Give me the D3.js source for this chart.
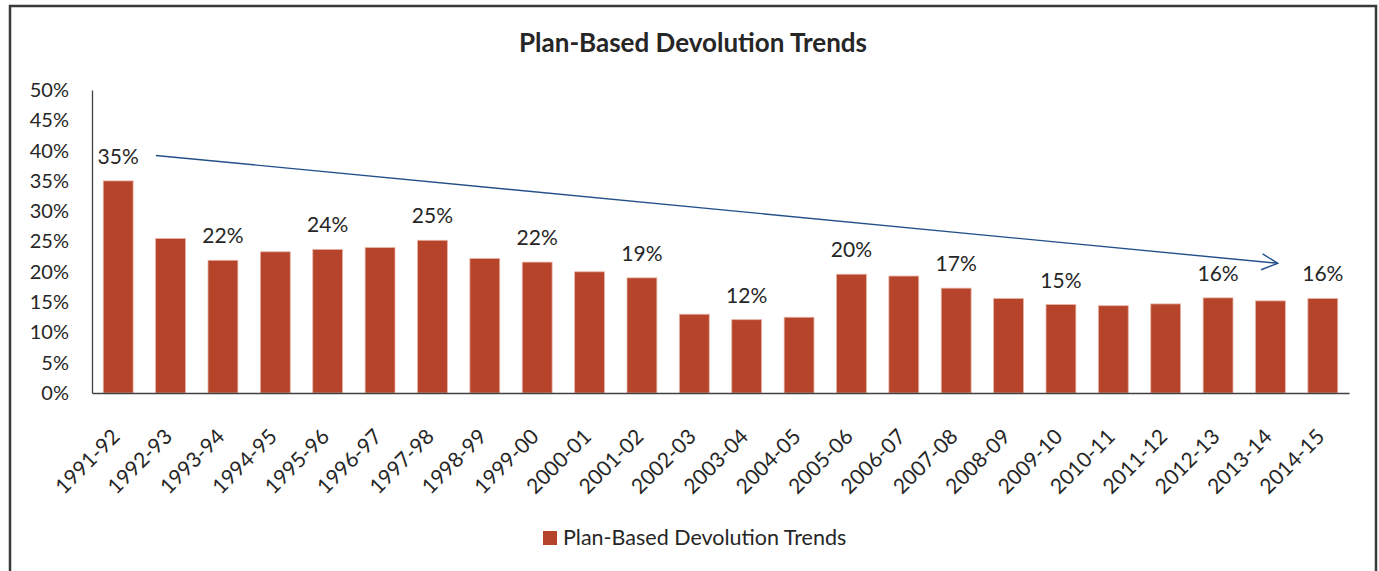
<!DOCTYPE html>
<html>
<head>
<meta charset="utf-8">
<script src="https://cdn.jsdelivr.net/npm/d3@7"></script>
<style>
  body { margin: 0; background: #fff; }
  svg { display: block; font-family: Lato, "Open Sans", sans-serif; }
</style>
</head>
<body>
<div id="chart"></div>
<script>
// values (share of plan-based devolution, %)
var years = ["1991-92", "1992-93", "1993-94", "1994-95", "1995-96", "1996-97", "1997-98", "1998-99",
  "1999-00", "2000-01", "2001-02", "2002-03", "2003-04", "2004-05", "2005-06", "2006-07",
  "2007-08", "2008-09", "2009-10", "2010-11", "2011-12", "2012-13", "2013-14", "2014-15"];
var shares = [35.0, 25.5, 21.9, 23.3, 23.7, 24.0, 25.2, 22.2,
  21.6, 20.0, 19.0, 13.0, 12.1, 12.5, 19.6, 19.3,
  17.3, 15.6, 14.6, 14.4, 14.7, 15.7, 15.2, 15.6];
// which bars carry a value label
var labelled = ["1991-92", "1993-94", "1995-96", "1997-98", "1999-00", "2001-02", "2003-04",
  "2005-06", "2007-08", "2009-10", "2012-13", "2014-15"];
var yTicks = [0, 5, 10, 15, 20, 25, 30, 35, 40, 45, 50];
// trend arrow, in (bar index, %) units
var arrowFrom = [1.22, 39.2];
var arrowTo = [22.64, 21.4];
var seriesName = "Plan-Based Devolution Trends";

var width = 1379, height = 571;
var plotLeft = 92, plotRight = 1349, plotTop = 90, plotBottom = 393;
var barColor = "#b5442a";

var svg = d3.select("#chart").append("svg")
  .attr("width", width)
  .attr("height", height);

// outer frame
svg.append("rect")
  .attr("x", 10).attr("y", 6)
  .attr("width", 1366).attr("height", 620)
  .attr("fill", "none")
  .attr("stroke", "#3a3a3a")
  .attr("stroke-width", 2.5);

svg.append("text")
  .attr("x", 693).attr("y", 52)
  .attr("text-anchor", "middle")
  .style("font-size", "26px")
  .style("font-weight", "bold")
  .style("fill", "#262626")
  .text(seriesName);

var x = d3.scaleBand()
  .domain(years)
  .range([plotLeft, plotRight])
  .paddingInner(0.43)
  .paddingOuter(0.215);

var idx = d3.scaleLinear().domain([0, years.length]).range([plotLeft, plotRight]);

var y = d3.scaleLinear()
  .domain([0, 50])
  .range([plotBottom, plotTop]);

// y axis
var yAxis = svg.append("g")
  .attr("transform", "translate(" + plotLeft + ",0)")
  .call(d3.axisLeft(y).tickValues(yTicks).tickSize(0).tickPadding(23)
    .tickFormat(function(d) { return d + "%"; }));
yAxis.select(".domain").attr("stroke", "#404040").attr("stroke-width", 1.3);
yAxis.selectAll("text")
  .style("font-size", "20px")
  .style("font-family", "Lato, sans-serif")
  .style("fill", "#262626");

// bars
svg.selectAll("rect.bar")
  .data(years)
  .enter().append("rect")
  .attr("class", "bar")
  .attr("x", function(d) { return x(d); })
  .attr("width", x.bandwidth())
  .attr("y", function(d, i) { return y(shares[i]); })
  .attr("height", function(d, i) { return plotBottom - y(shares[i]); })
  .attr("fill", barColor)
  .attr("stroke", "#e9b3a5")
  .attr("stroke-width", 0.8);

// x axis
var xAxis = svg.append("g")
  .attr("transform", "translate(0," + plotBottom + ")")
  .call(d3.axisBottom(x).tickSize(0).tickSizeOuter(0).tickPadding(0));
xAxis.select(".domain").attr("stroke", "#404040").attr("stroke-width", 1.3);
xAxis.selectAll("text")
  .attr("text-anchor", "end")
  .attr("dy", 0)
  .attr("y", 0)
  .attr("transform", "translate(3,45) rotate(-45)")
  .style("font-size", "21px")
  .style("font-family", "Lato, sans-serif")
  .style("fill", "#262626");

// value labels
svg.selectAll("text.val")
  .data(years.filter(function(d) { return labelled.indexOf(d) >= 0; }))
  .enter().append("text")
  .attr("class", "val")
  .attr("x", function(d) { return x(d) + x.bandwidth() / 2; })
  .attr("y", function(d) { return y(shares[years.indexOf(d)]) - 17; })
  .attr("text-anchor", "middle")
  .style("font-size", "21px")
  .style("fill", "#262626")
  .text(function(d) { return Math.round(shares[years.indexOf(d)]) + "%"; });

// trend arrow
svg.append("defs").append("marker")
  .attr("id", "head")
  .attr("viewBox", "0 0 20 20")
  .attr("refX", 18).attr("refY", 10)
  .attr("markerWidth", 20).attr("markerHeight", 20)
  .attr("markerUnits", "userSpaceOnUse")
  .attr("orient", "auto")
  .append("path")
  .attr("d", "M2,2 L18,10 L2,18")
  .attr("fill", "none")
  .attr("stroke", "#24508a")
  .attr("stroke-width", 1.4);

svg.append("line")
  .attr("x1", idx(arrowFrom[0])).attr("y1", y(arrowFrom[1]))
  .attr("x2", idx(arrowTo[0])).attr("y2", y(arrowTo[1]))
  .attr("stroke", "#24508a")
  .attr("stroke-width", 1.4)
  .attr("marker-end", "url(#head)");

// legend
var legend = svg.append("g").attr("transform", "translate(543,531)");
legend.append("rect")
  .attr("width", 14).attr("height", 14)
  .attr("fill", barColor);
legend.append("text")
  .attr("x", 20).attr("y", 14)
  .style("font-size", "21.5px")
  .style("fill", "#262626")
  .text(seriesName);
</script>
</body>
</html>
